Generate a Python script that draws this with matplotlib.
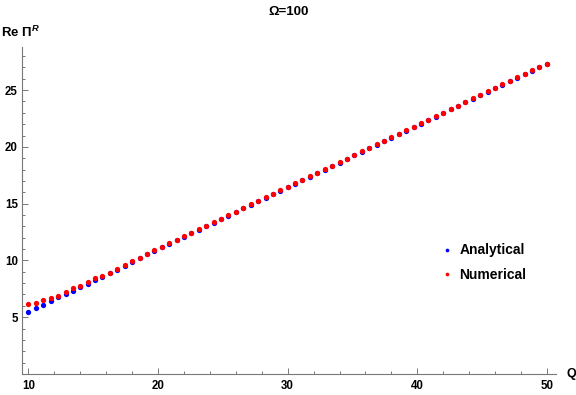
import numpy as np
import matplotlib.pyplot as plt

plt.rcParams['font.family'] = ['Liberation Sans', 'DejaVu Sans']
plt.rcParams['mathtext.fontset'] = 'custom'
plt.rcParams['mathtext.rm'] = 'Liberation Sans:bold'
plt.rcParams['mathtext.it'] = 'Liberation Sans:bold:italic'
plt.rcParams['mathtext.bf'] = 'Liberation Sans:bold'

# sample points
Q = [10.00, 10.57, 11.14, 11.71, 12.29, 12.86, 13.43, 14.00, 14.57, 15.14,
     15.71, 16.29, 16.86, 17.43, 18.00, 18.57, 19.14, 19.71, 20.29, 20.86,
     21.43, 22.00, 22.57, 23.14, 23.71, 24.29, 24.86, 25.43, 26.00, 26.57,
     27.14, 27.71, 28.29, 28.86, 29.43, 30.00, 30.57, 31.14, 31.71, 32.29,
     32.86, 33.43, 34.00, 34.57, 35.14, 35.71, 36.29, 36.86, 37.43, 38.00,
     38.57, 39.14, 39.71, 40.29, 40.86, 41.43, 42.00, 42.57, 43.14, 43.71,
     44.29, 44.86, 45.43, 46.00, 46.57, 47.14, 47.71, 48.29, 48.86, 49.43,
     50.00]

numerical = [6.14, 6.23, 6.50, 6.67, 6.91, 7.26, 7.56, 7.79, 8.06, 8.41,
             8.67, 8.91, 9.23, 9.56, 9.91, 10.23, 10.59, 10.88, 11.19, 11.50,
             11.81, 12.13, 12.44, 12.75, 13.06, 13.37, 13.68, 13.99, 14.30, 14.62,
             14.93, 15.24, 15.55, 15.86, 16.17, 16.48, 16.79, 17.11, 17.42, 17.73,
             18.04, 18.35, 18.66, 18.97, 19.29, 19.60, 19.91, 20.22, 20.53, 20.84,
             21.15, 21.47, 21.78, 22.09, 22.40, 22.71, 23.02, 23.33, 23.64, 23.96,
             24.27, 24.58, 24.89, 25.20, 25.51, 25.82, 26.13, 26.45, 26.74, 27.03,
             27.32]

analytical = [5.44, 5.79, 6.06, 6.41, 6.76, 7.03, 7.35, 7.64, 7.94, 8.26,
              8.56, 8.86, 9.18, 9.50, 9.86, 10.19, 10.55, 10.85, 11.15, 11.46,
              11.77, 12.09, 12.40, 12.71, 13.02, 13.33, 13.64, 13.95, 14.26, 14.58,
              14.89, 15.20, 15.51, 15.82, 16.13, 16.44, 16.75, 17.07, 17.38, 17.69,
              18.00, 18.31, 18.62, 18.93, 19.25, 19.56, 19.87, 20.18, 20.49, 20.80,
              21.11, 21.43, 21.74, 22.05, 22.36, 22.67, 22.98, 23.29, 23.60, 23.92,
              24.23, 24.54, 24.85, 25.16, 25.47, 25.78, 26.09, 26.41, 26.70, 26.99,
              27.28]

fig = plt.figure(figsize=(5.76, 3.95), dpi=100)
ax = fig.add_axes([0.0382, 0.0532, 0.927, 0.828])

ax.plot(Q, analytical, 'o', ms=3.8, color='blue', mec='none', label='Analytical')
ax.plot(Q, numerical, 'o', ms=3.8, color='red', mec='none', label='Numerical')

ax.set_xlim(9.5, 50.7)
ax.set_ylim(0, 28.8)
ax.set_xticks([10, 20, 30, 40, 50])
ax.set_xticks(np.arange(12, 50, 2), minor=True)
ax.set_yticks([5, 10, 15, 20, 25])
ax.set_yticks([1, 2, 3, 4, 6, 7, 8, 9, 11, 12, 13, 14, 16, 17, 18, 19, 21, 22, 23, 24, 26, 27, 28], minor=True)

axis_col = '#777777'
for s in ['top', 'right']:
    ax.spines[s].set_visible(False)
for s in ['left', 'bottom']:
    ax.spines[s].set_color(axis_col)
    ax.spines[s].set_linewidth(0.8)

ax.tick_params(which='both', direction='in', color=axis_col, width=0.7, labelsize=8.3)
ax.tick_params(which='major', length=4)
ax.tick_params(which='minor', length=2.3)
ax.tick_params(axis='x', pad=4)
ax.tick_params(axis='y', pad=3)
for lab in ax.get_xticklabels() + ax.get_yticklabels():
    lab.set_fontweight('bold')

ax.set_title('Ω=100', fontsize=9.5, fontweight='bold', pad=23)
fig.text(0.002, 0.906, r'$\mathrm{Re}\ \Pi^{R}$', fontsize=9.5, ha='left', va='baseline')
fig.text(0.983, 0.045, 'Q', fontsize=9, fontweight='bold', ha='left', va='baseline')

ax.legend(loc='center left', bbox_to_anchor=(441.1 / 576, 0.3354),
          bbox_transform=fig.transFigure, frameon=False,
          prop={'weight': 'bold', 'size': 10}, markerscale=0.7,
          handlelength=0.8, handletextpad=0.51, borderpad=0,
          borderaxespad=0, labelspacing=0.74)

plt.savefig('out.png', dpi=100)
plt.close()
